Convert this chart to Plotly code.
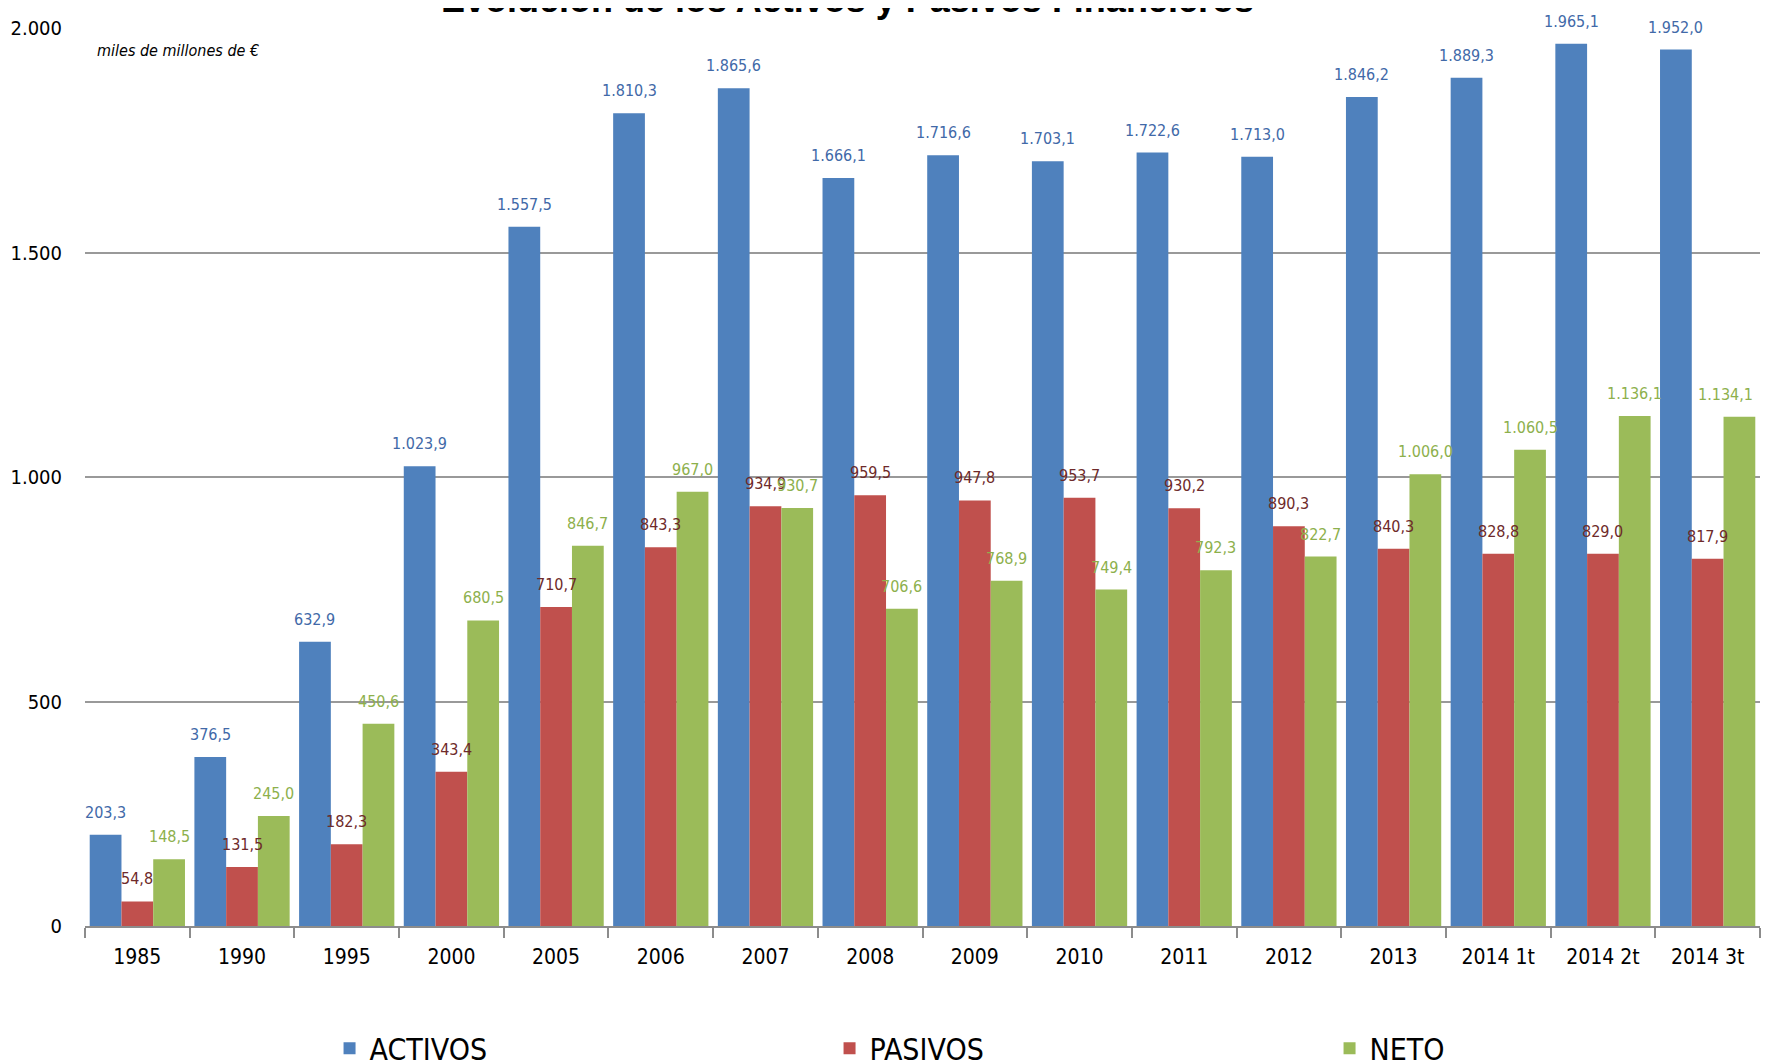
import plotly.graph_objects as go

categories = ["1985", "1990", "1995", "2000", "2005", "2006", "2007", "2008", "2009",
              "2010", "2011", "2012", "2013", "2014 1t", "2014 2t", "2014 3t"]
activos = [203.3, 376.5, 632.9, 1023.9, 1557.5, 1810.3, 1865.6, 1666.1, 1716.6,
           1703.1, 1722.6, 1713.0, 1846.2, 1889.3, 1965.1, 1952.0]
pasivos = [54.8, 131.5, 182.3, 343.4, 710.7, 843.3, 934.9, 959.5, 947.8,
           953.7, 930.2, 890.3, 840.3, 828.8, 829.0, 817.9]
neto = [148.5, 245.0, 450.6, 680.5, 846.7, 967.0, 930.7, 706.6, 768.9,
        749.4, 792.3, 822.7, 1006.0, 1060.5, 1136.1, 1134.1]
y_ticks = [0, 500, 1000, 1500, 2000]

NARROW = "Liberation Sans Narrow, Arial Narrow, DejaVu Sans Condensed, sans-serif"

series = [
    ("ACTIVOS", activos, "#4F81BD", "#4169A8"),
    ("PASIVOS", pasivos, "#C0504D", "#6E2A2A"),
    ("NETO", neto, "#9BBB59", "#8DB04C"),
]

W, H = 1769, 1064
ML, MR, MT, MB = 77, 17, 20, 146
BARGAP = 0.09
plot_w = W - ML - MR
bar_px = plot_w / len(categories) * (1 - BARGAP) / len(series)


def fmt(v):
    s = f"{v:,.1f}"
    return s.replace(",", "X").replace(".", ",").replace("X", ".")


fig = go.Figure()
annotations = []
n_cat = len(categories)
for i, (name, vals, col, tcol) in enumerate(series):
    fig.add_trace(go.Bar(
        name=name, x=categories, y=vals,
        marker=dict(color=col, line=dict(width=0)),
    ))
    for j, v in enumerate(vals):
        # keep the right-most label inside the plot area (as the original does)
        at_edge = (j == n_cat - 1 and i == len(series) - 1)
        annotations.append(dict(
            x=j, y=v, xref="x", yref="y", text=fmt(v), showarrow=False,
            xanchor="right" if at_edge else "center", yanchor="bottom",
            xshift=(i - 1) * bar_px + (bar_px / 2 if at_edge else 0), yshift=11,
            font=dict(family=NARROW, size=16, color=tcol),
        ))

annotations += [
    dict(text="<b>Evolución de los Activos y Pasivos Financieros</b>",
         xref="paper", yref="paper", x=0.455, y=1.032, xanchor="center", yanchor="middle",
         showarrow=False,
         font=dict(family="Liberation Sans, Arial, sans-serif", size=36, color="black")),
    dict(text="<i>miles de millones de €</i>", xref="paper", yref="paper",
         x=0.006, y=0.975, xanchor="left", yanchor="middle", showarrow=False,
         font=dict(family=NARROW, size=16, color="black")),
]

fig.update_layout(
    width=W, height=H,
    paper_bgcolor="white", plot_bgcolor="white",
    separators=",.",
    barmode="group", bargap=BARGAP, bargroupgap=0,
    margin=dict(l=ML, r=MR, t=MT, b=MB, autoexpand=False),
    font=dict(family=NARROW, color="black"),
    xaxis=dict(
        type="category", categoryorder="array", categoryarray=categories,
        range=[-0.5, len(categories) - 0.5], tickangle=0,
        showgrid=False, showline=True, linecolor="#8c8c8c", linewidth=2,
        ticks="outside", tickson="boundaries", ticklen=10, tickcolor="#8c8c8c", tickwidth=2,
        ticklabelstandoff=11,
        tickfont=dict(family=NARROW, size=21, color="black"),
    ),
    yaxis=dict(
        range=[0, 2000], tickvals=y_ticks, tickformat=",d",
        showgrid=True, gridcolor="#999999", gridwidth=1.5, zeroline=False,
        showline=False, ticks="", ticklabelstandoff=22,
        tickfont=dict(family=NARROW, size=20, color="black"),
    ),
    legend=dict(
        orientation="h", x=0.146, xanchor="left", y=-0.136, yanchor="middle",
        entrywidth=455, entrywidthmode="pixels",
        font=dict(family=NARROW, size=30, color="black"),
        itemsizing="constant",
    ),
    annotations=annotations,
)

fig.write_html("out.html")
